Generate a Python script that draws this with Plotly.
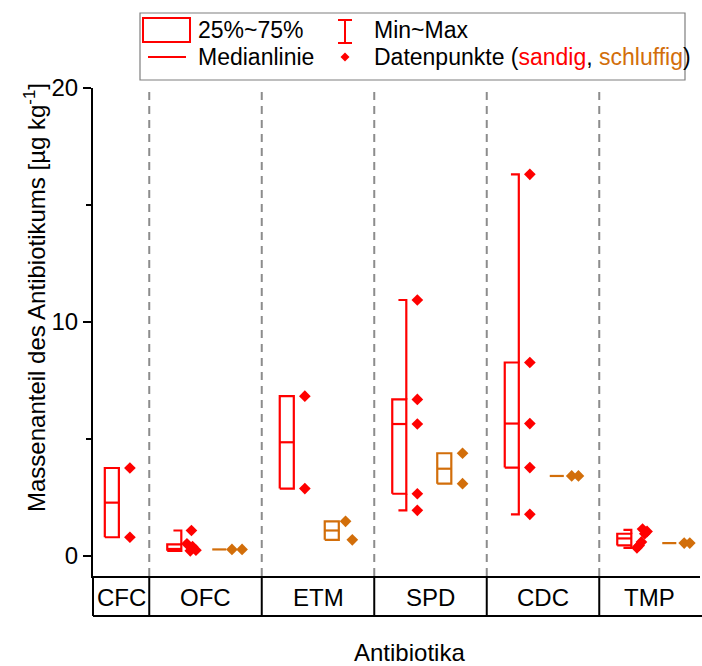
import plotly.graph_objects as go

# ---------------- data ----------------
categories = ["CFC", "OFC", "ETM", "SPD", "CDC", "TMP"]

# individual data points
sandig_points = [
    [3.76, 0.80],
    [1.09, 0.52, 0.40, 0.25, 0.22],
    [6.83, 2.88],
    [10.94, 6.69, 5.64, 2.66, 1.95],
    [16.31, 8.27, 5.66, 3.78, 1.78],
    [1.15, 1.05, 0.95, 0.60, 0.45, 0.35],
]
schluffig_points = [
    [],
    [0.28, 0.28],
    [1.48, 0.69],
    [4.39, 3.09],
    [3.42, 3.42],
    [0.55, 0.55],
]

# box statistics: min, q1, median, q3, max
sandig_min = [0.80, 0.22, 2.88, 1.95, 1.78, 0.35]
sandig_q1 = [0.80, 0.22, 2.88, 2.66, 3.78, 0.45]
sandig_med = [2.28, 0.30, 4.86, 5.64, 5.66, 0.75]
sandig_q3 = [3.76, 0.50, 6.83, 6.69, 8.27, 0.95]
sandig_max = [3.76, 1.09, 6.83, 10.94, 16.31, 1.12]

schluffig_min = [None, 0.28, 0.69, 3.09, 3.42, 0.55]
schluffig_q1 = [None, 0.28, 0.69, 3.09, 3.42, 0.55]
schluffig_med = [None, 0.28, 1.09, 3.73, 3.42, 0.55]
schluffig_q3 = [None, 0.28, 1.48, 4.39, 3.42, 0.55]
schluffig_max = [None, 0.28, 1.48, 4.39, 3.42, 0.55]

y_ticks = [0, 10, 20]

# ---------------- layout / style constants ----------------
RED = "#FF0000"
ORANGE = "#D26E0A"
FONT = "Liberation Sans, Arial, sans-serif"
W, H = 702, 666
ML, MR, MT, MB = 93, 2, 88, 90
PW, PH = W - ML - MR, H - MT - MB

# x positions (group units) of each category's boxes
sand_pos = [0.23, 0.785, 1.785, 2.785, 3.785, 4.785]
silt_pos = [None, 1.185, 2.185, 3.185, 4.185, 5.185]
group_bounds = [0.5, 1.5, 2.5, 3.5, 4.5]
label_pos = [0.249, 1, 2, 3, 4, 4.947]
X_MAX = PW / 112.5
BW = 0.125     # box width
CW = 0.07      # cap length
PO = 0.098     # point offset

# point x jitter (in group units), per category
sand_jit = [[0, 0], [0.09, 0.05, 0.1, 0.13, 0.08], [0, 0], [0] * 5, [0] * 5,
            [0.1, 0.14, 0.12, 0.09, 0.07, 0.05]]
silt_jit = [[], [0.05, 0.14], [0.06, 0.12], [0.1, 0.1], [0.07, 0.13], [0.07, 0.12]]

fig = go.Figure()


def add_box(c, lo, q1, med, q3, hi, pts, jit, color):
    # box
    if q3 > q1:
        fig.add_trace(go.Scatter(x=[c - BW, c, c, c - BW, c - BW], y=[q1, q1, q3, q3, q1],
                                 mode="lines", line=dict(color=color, width=2.2),
                                 showlegend=False, hoverinfo="skip"))
    # median
    fig.add_trace(go.Scatter(x=[c - BW, c], y=[med, med], mode="lines",
                             line=dict(color=color, width=2.2), showlegend=False, hoverinfo="skip"))
    # whiskers
    if hi > q3:
        fig.add_trace(go.Scatter(x=[c - CW, c, c], y=[hi, hi, q3], mode="lines",
                                 line=dict(color=color, width=2.2), showlegend=False, hoverinfo="skip"))
    if lo < q1:
        fig.add_trace(go.Scatter(x=[c - CW, c, c], y=[lo, lo, q1], mode="lines",
                                 line=dict(color=color, width=2.2), showlegend=False, hoverinfo="skip"))
    # points
    fig.add_trace(go.Scatter(x=[c + (j if j else PO) for j in jit], y=pts, mode="markers",
                             marker=dict(symbol="diamond", size=9, color=color),
                             showlegend=False, hoverinfo="skip"))


for i in range(len(categories)):
    add_box(sand_pos[i], sandig_min[i], sandig_q1[i], sandig_med[i], sandig_q3[i],
            sandig_max[i], sandig_points[i], sand_jit[i], RED)
    if silt_pos[i] is not None:
        add_box(silt_pos[i], schluffig_min[i], schluffig_q1[i], schluffig_med[i],
                schluffig_q3[i], schluffig_max[i], schluffig_points[i], silt_jit[i], ORANGE)


def px(x):
    return (x - ML) / PW


def py(y):
    return (H - MB - y) / PH


shapes = []
# dashed separators
for b in group_bounds:
    shapes.append(dict(type="line", xref="x", yref="paper", x0=b, x1=b, y0=0, y1=1,
                       line=dict(color="#8C8C8C", width=2, dash="8px,6px")))
# category table below the axis
TB = py(616)
shapes.append(dict(type="line", xref="paper", yref="paper", x0=0, x1=px(702), y0=TB, y1=TB,
                   line=dict(color="black", width=2)))
shapes.append(dict(type="line", xref="paper", yref="paper", x0=0, x1=0, y0=TB, y1=0,
                   line=dict(color="black", width=2)))
for b in group_bounds:
    shapes.append(dict(type="line", xref="x", yref="paper", x0=b, x1=b, y0=TB, y1=0,
                       line=dict(color="black", width=2)))

# legend frame and symbols
shapes.append(dict(type="rect", xref="paper", yref="paper", x0=px(140), x1=px(685),
                   y0=py(80), y1=py(13), line=dict(color="#7F7F7F", width=1.2)))
shapes.append(dict(type="rect", xref="paper", yref="paper", x0=px(143), x1=px(190),
                   y0=py(42), y1=py(18), line=dict(color=RED, width=2)))
shapes.append(dict(type="line", xref="paper", yref="paper", x0=px(345), x1=px(345),
                   y0=py(43), y1=py(20), line=dict(color=RED, width=2)))
for yy in (20, 43):
    shapes.append(dict(type="line", xref="paper", yref="paper", x0=px(338), x1=px(352),
                       y0=py(yy), y1=py(yy), line=dict(color=RED, width=2)))
shapes.append(dict(type="line", xref="paper", yref="paper", x0=px(148), x1=px(186),
                   y0=py(57), y1=py(57), line=dict(color=RED, width=2)))
dx, dy = 4.5 / PW, 4.5 / PH
cx, cy = px(345), py(57)
shapes.append(dict(type="path", xref="paper", yref="paper",
                   path=f"M {cx},{cy + dy} L {cx + dx},{cy} L {cx},{cy - dy} L {cx - dx},{cy} Z",
                   fillcolor=RED, line=dict(width=0)))

annotations = []
for lab, xp in zip(categories, label_pos):
    annotations.append(dict(x=xp, y=py(597), xref="x", yref="paper", text=lab, showarrow=False,
                            font=dict(family=FONT, size=24, color="black"),
                            xanchor="center", yanchor="middle"))
annotations.append(dict(x=px(409), y=py(652), xref="paper", yref="paper", text="Antibiotika",
                        showarrow=False, font=dict(family=FONT, size=24, color="black"),
                        xanchor="center", yanchor="middle"))
annotations.append(dict(x=px(35), y=py(298), xref="paper", yref="paper",
                        text="Massenanteil des Antibiotikums [µg kg<sup>-1</sup>]",
                        textangle=-90, showarrow=False,
                        font=dict(family=FONT, size=24, color="black"),
                        xanchor="center", yanchor="middle"))
leg_font = dict(family=FONT, size=23, color="black")
for txt, x0, y0 in [("25%~75%", 196, 30), ("Min~Max", 372, 30), ("Medianlinie", 196, 57),
                    ("Datenpunkte (<span style='color:#FF0000'>sandig</span>, "
                     "<span style='color:" + ORANGE + "'>schluffig</span>)", 372, 57)]:
    annotations.append(dict(x=px(x0), y=py(y0), xref="paper", yref="paper", text=txt,
                            showarrow=False, font=leg_font, xanchor="left", yanchor="middle"))

fig.update_layout(
    width=W, height=H,
    margin=dict(l=ML, r=MR, t=MT, b=MB, pad=0),
    paper_bgcolor="white", plot_bgcolor="white",
    shapes=shapes, annotations=annotations,
    font=dict(family=FONT, size=23, color="black"),
    xaxis=dict(range=[0, X_MAX], showgrid=False, zeroline=False, showticklabels=False,
               ticks="", showline=True, linecolor="black", linewidth=2, fixedrange=True),
    yaxis=dict(range=[-0.855, 20], showgrid=False, zeroline=False, tickvals=y_ticks,
               ticks="outside", ticklen=8, tickwidth=2, tickcolor="black",
               showline=True, linecolor="black", linewidth=2,
               tickfont=dict(family=FONT, size=24, color="black"),
               minor=dict(tickvals=[5, 15], ticks="outside", ticklen=5, tickwidth=2,
                          tickcolor="black")),
)

fig.write_html("out.html")
